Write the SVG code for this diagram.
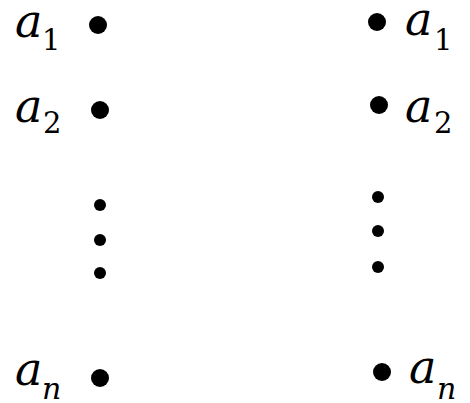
<svg xmlns="http://www.w3.org/2000/svg" width="470" height="403" viewBox="0 0 470 403">
<style>
.v{font-family:"DejaVu Serif","Liberation Serif",serif;font-style:italic;font-size:46px;fill:#000}
.s{font-family:"DejaVu Serif","Liberation Serif",serif;font-size:29px;fill:#000}
.n{font-family:"DejaVu Serif","Liberation Serif",serif;font-style:italic;font-size:30px;fill:#000}
.d{fill:#000}
</style>
<rect width="470" height="403" fill="#fff"/>
<g id="left-a1"><text class="v" x="15" y="37">a</text><text class="s" x="42" y="50">1</text><circle class="d" cx="98" cy="25" r="9"/></g>
<g id="left-a2"><text class="v" x="15" y="122">a</text><text class="s" x="43" y="133">2</text><circle class="d" cx="100" cy="110" r="9"/></g>
<g id="left-dots"><circle class="d" cx="100" cy="205" r="6"/><circle class="d" cx="100" cy="240" r="6"/><circle class="d" cx="100" cy="273" r="6"/></g>
<g id="left-an"><text class="v" x="15" y="385">a</text><text class="n" x="42" y="399">n</text><circle class="d" cx="100" cy="378" r="9"/></g>
<g id="right-a1"><circle class="d" cx="377" cy="22" r="9"/><text class="v" x="405" y="35">a</text><text class="s" x="434" y="50">1</text></g>
<g id="right-a2"><circle class="d" cx="379" cy="105" r="9"/><text class="v" x="405" y="122">a</text><text class="s" x="434" y="133">2</text></g>
<g id="right-dots"><circle class="d" cx="378" cy="197" r="6"/><circle class="d" cx="378" cy="231" r="6"/><circle class="d" cx="378" cy="267" r="6"/></g>
<g id="right-an"><circle class="d" cx="382" cy="372" r="9"/><text class="v" x="409" y="383">a</text><text class="n" x="437" y="399">n</text></g>
<g id="connectors"></g>
</svg>
